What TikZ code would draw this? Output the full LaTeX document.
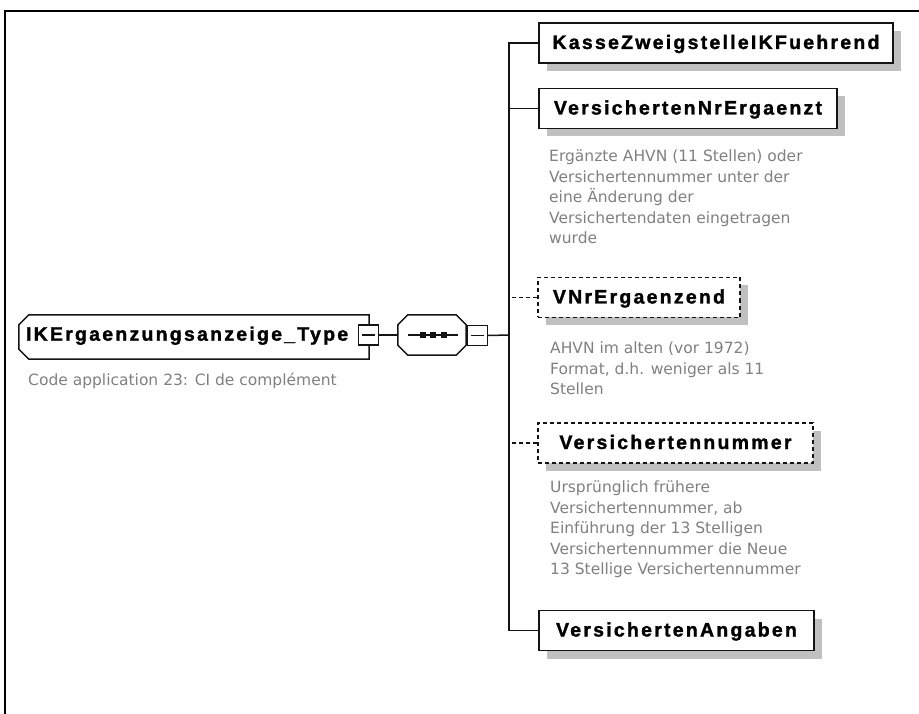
\documentclass[tikz,border=0pt]{standalone}
\usepackage{fontspec}
\usetikzlibrary{calc,backgrounds,shadows}
\newfontfamily\lblfont{Liberation Sans}[LetterSpace=11.5,FakeBold=1.5]
\newfontfamily\annfont{DejaVu Sans}
\definecolor{shgray}{RGB}{192,192,192}
\definecolor{anngray}{RGB}{128,128,128}
\definecolor{lnblack}{RGB}{20,20,20}
\tikzset{
  x=1pt, y=-1pt,
  lbl/.style={font=\lblfont\bfseries\fontsize{19.5pt}{22pt}\selectfont},
  elem/.style={lbl, rectangle, draw=lnblack, line width=1.5pt, fill=white,
    minimum height=40pt, inner sep=0pt, text height=15pt, text depth=3pt,
    drop shadow={shadow xshift=8pt, shadow yshift=-8pt, fill=shgray, opacity=1, draw=none}},
  optelem/.style={elem, dash pattern=on 4pt off 3pt},
  minusbox/.style={rectangle, draw=lnblack, line width=1.4pt, fill=white,
    minimum size=20pt, inner sep=0pt,
    path picture={\draw[lnblack, line width=1.4pt]
      ([xshift=3.5pt]path picture bounding box.west) --
      ([xshift=-3.5pt]path picture bounding box.east);}},
  ann/.style={font=\annfont\fontsize{15.5pt}{20.5pt}\selectfont, text=anngray,
    align=left, inner sep=0pt, anchor=north west},
  conn/.style={draw=lnblack, line width=1.5pt},
  optconn/.style={conn, dash pattern=on 4pt off 3pt},
  outline/.style={draw=lnblack, line width=1.5pt, fill=white},
  frame/.style={draw=black, line width=1.6pt}
}
\begin{document}
\begin{tikzpicture}
\useasboundingbox (0,0) rectangle (919,714);
\draw[frame] (919,11) -- (5,11) -- (5,714);

% main element
\node[lbl, rectangle, minimum height=44pt, text width=336pt, align=left,
      inner xsep=7pt, inner ysep=0pt, text height=14pt, text depth=6.6pt]
      (main) at (194,337) {IKErgaenzungsanzeige\_Type};
\node[ann, anchor=north west] (mainann) at (28,373) {Code application 23: CI de complément};

% sequence compositor
\node[rectangle, minimum width=68pt, minimum height=40pt, inner sep=0pt] (seq) at (432,335) {};

\begin{scope}[on background layer]
  \fill[shgray, shift={(8,8)}]
    ($(main.north west)+(10,0)$) -- (main.north east) -- (main.south east) --
    ($(main.south west)+(10,0)$) -- ($(main.south west)+(0,-10)$) --
    ($(main.north west)+(0,10)$) -- cycle;
  \path[outline]
    ($(main.north west)+(10,0)$) -- (main.north east) -- (main.south east) --
    ($(main.south west)+(10,0)$) -- ($(main.south west)+(0,-10)$) --
    ($(main.north west)+(0,10)$) -- cycle;
  \fill[shgray, shift={(8,8)}]
    ($(seq.north west)+(10,0)$) -- ($(seq.north east)+(-10,0)$) --
    ($(seq.north east)+(0,10)$) -- ($(seq.south east)+(0,-10)$) --
    ($(seq.south east)+(-10,0)$) -- ($(seq.south west)+(10,0)$) --
    ($(seq.south west)+(0,-10)$) -- ($(seq.north west)+(0,10)$) -- cycle;
  \path[outline]
    ($(seq.north west)+(10,0)$) -- ($(seq.north east)+(-10,0)$) --
    ($(seq.north east)+(0,10)$) -- ($(seq.south east)+(0,-10)$) --
    ($(seq.south east)+(-10,0)$) -- ($(seq.south west)+(10,0)$) --
    ($(seq.south west)+(0,-10)$) -- ($(seq.north west)+(0,10)$) -- cycle;
\end{scope}

\draw[lnblack, line width=1.4pt] ($(seq.west)+(10,0)$) -- ($(seq.east)+(-8,0)$);
\foreach \dx in {-10.5,0,10.5}
  \fill[lnblack] ($(seq.center)+(\dx,0)+(1,0)+(-3,-3)$) rectangle ++(6,6);

\node[minusbox] (mmin) at (368.5,335) {};
\node[minusbox] (smin) at (477.5,335.5) {};

% child elements
\node[elem, minimum width=354pt] (kasse) at (716,43) {KasseZweigstelleIKFuehrend};
\node[elem, minimum width=298pt] (vnrerg) at (688,108.5) {VersichertenNrErgaenzt};
\node[optelem, minimum width=202pt] (vnrergd) at (639,297.5) {VNrErgaenzend};
\node[optelem, minimum width=275pt] (vnum) at (675.5,443) {Versichertennummer};
\node[elem, minimum width=275pt] (vang) at (676.5,630.5) {VersichertenAngaben};

% annotations
\node[ann] (ann1) at (549,150) {Ergänzte AHVN (11 Stellen) oder\\Versichertennummer unter der\\eine Änderung der\\Versichertendaten eingetragen\\wurde};
\node[ann] (ann2) at (550,342) {AHVN im alten (vor 1972)\\Format, d.h. weniger als 11\\Stellen};
\node[ann] (ann3) at (550,481) {Ursprünglich frühere\\Versichertennummer, ab\\Einführung der 13 Stelligen\\Versichertennummer die Neue\\13 Stellige Versichertennummer};

% connectors
\coordinate (tr) at (509,335);
\draw[conn] (mmin.east) -- (mmin.east -| seq.west);
\draw[conn] (smin.east) -- (tr);
\draw[conn] (kasse.west) -| (tr) |- (vang.west);
\draw[conn] (vnrerg.west) -- (vnrerg.west -| tr);
\draw[optconn] (vnrergd.west) -- (vnrergd.west -| tr);
\draw[optconn] (vnum.west) -- (vnum.west -| tr);
\end{tikzpicture}
\end{document}
